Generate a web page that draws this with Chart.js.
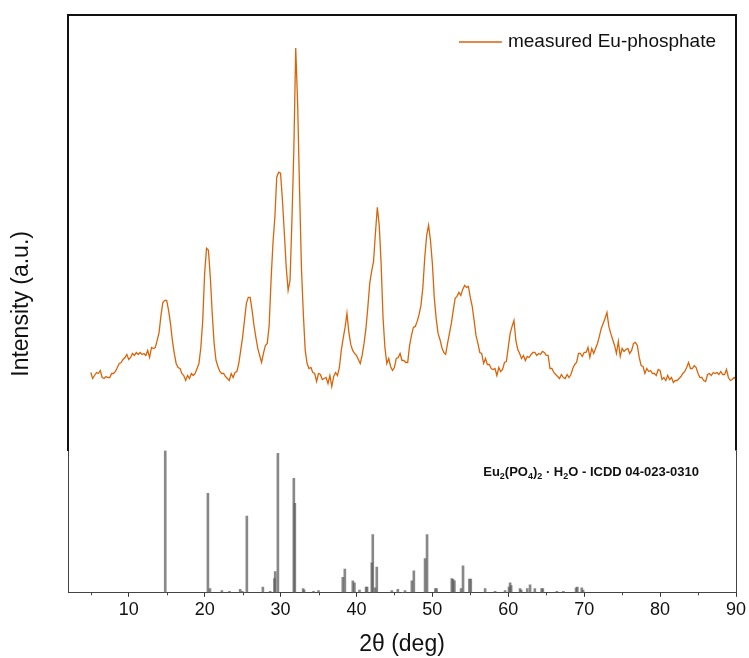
<!DOCTYPE html>
<html><head><meta charset="utf-8">
<script src="https://cdn.jsdelivr.net/npm/chart.js@4.4.1/dist/chart.umd.min.js"></script>
<style>html,body{margin:0;padding:0;background:#fff}canvas{display:block}</style>
</head><body>
<canvas id="c" width="749" height="658"></canvas>
<script>
// 2θ scan grid of the measured pattern (deg)
const thetaStart = 5;
const thetaStep = 0.25;
// measured intensity (a.u.), one value per grid step from 5° to 90°
const measuredIntensity = [
  78,72,75,78,77,80,73,72,74,73,73,77,77,79,83,87,88,91,93,96,
  91,93,97,95,98,96,98,96,97,95,100,93,103,102,103,110,118,135,148,150,
  150,140,127,110,97,87,83,82,77,75,70,75,72,77,75,77,82,87,103,130,
  177,202,200,173,137,107,90,84,79,77,77,74,72,70,77,73,78,79,87,100,
  113,130,147,153,153,140,125,113,102,95,88,97,105,107,125,170,207,233,273,278,
  277,250,217,183,160,170,230,300,402,347,262,183,137,100,87,82,83,78,77,69,
  77,76,71,72,73,67,75,64,74,78,75,83,100,112,123,137,118,106,100,97,
  95,91,87,95,107,122,143,167,179,189,217,243,225,187,133,103,87,92,84,80,
  83,92,93,97,90,90,88,88,105,115,123,124,129,136,145,163,193,215,225,210,
  187,153,132,117,111,103,98,96,107,117,127,140,152,154,158,155,161,165,163,164,
  153,144,130,115,107,98,97,87,92,86,86,82,81,82,75,83,79,81,88,89,
  103,117,124,130,110,101,97,92,95,90,94,93,96,98,98,95,97,96,99,98,
  95,95,82,82,78,76,74,72,76,73,72,76,73,76,82,86,88,97,97,94,
  98,98,103,93,102,97,102,107,114,122,127,132,138,124,117,111,105,97,109,94,
  102,99,101,102,97,100,107,108,105,93,85,84,77,82,79,80,77,77,75,81,
  80,71,73,70,75,71,73,68,70,70,72,74,77,79,83,88,82,82,85,83,
  77,73,73,70,69,76,77,75,78,77,78,76,79,76,76,81,73,70,71,73,
  71
];
// reference stick pattern (ICDD 04-023-0310): 2θ positions and relative intensities (%)
const refPositions = [14.81,20.43,20.7,22.27,23.27,24.68,24.95,25.56,27.67,28.63,29.2,29.3,29.65,31.75,31.88,32.98,33.1,34.34,35.0,38.2,38.47,39.52,39.73,40.4,41.27,41.4,42.02,42.15,42.46,42.68,44.66,45.45,46.4,47.3,47.56,49.04,49.3,50.4,50.55,52.56,52.72,52.9,53.78,54.04,54.88,55.06,56.95,58.26,59.58,60.1,60.24,60.38,61.55,61.7,62.5,62.87,63.5,64.4,64.55,66.4,67.26,68.93,69.1,69.68,69.85];
const refIntensities = [100,70,3,1.5,1,2.5,1,54,4,1,10,15,98,80.5,63,3,2,1,1.5,10.8,16.7,8.5,7,2,4,4,21,41,3.5,18,1.5,2.5,1.5,8.5,15.5,24,41,3,3,10,9.5,8.5,3,19,9.6,9.6,3,1,1.5,4,7,5,3,2,3,5.6,3,3,3,1,1,3.5,4,3.5,2];
const minorTicks = [5,15,25,35,45,55,65,75,85];

const measuredLabel = 'measured Eu-phosphate';
const refLabelParts = [['Eu',0],['2',1],['(PO',0],['4',1],[')',0],['2',1],[' · H',0],['2',1],['O - ICDD 04-023-0310',0]];
const xTitle = '2θ (deg)';
const yTitle = 'Intensity (a.u.)';

const FONT = "'Liberation Sans', Arial, Helvetica, sans-serif";
const ORANGE = '#d9650b';

const measured = measuredIntensity.map((v, i) => ({x: thetaStart + i * thetaStep, y: v}));
const sticks = refPositions.map((p, i) => ({x: p, y: refIntensities[i]}));

const decor = {
  id: 'decor',
  afterDraw(chart) {
    const {ctx, chartArea: ca, scales} = chart;
    const yM = scales.yMeas, yR = scales.yRef, x = scales.x;
    ctx.save();
    // frame of measured panel
    ctx.strokeStyle = '#111'; ctx.lineWidth = 2;
    ctx.beginPath();
    ctx.moveTo(ca.left - 1, yM.top); ctx.lineTo(ca.right + 1, yM.top);
    ctx.moveTo(ca.right, yM.top); ctx.lineTo(ca.right, yM.bottom);
    ctx.stroke();
    ctx.strokeStyle = '#444'; ctx.lineWidth = 1;
    ctx.beginPath();
    ctx.moveTo(Math.round(ca.right) + 0.5, yR.top); ctx.lineTo(Math.round(ca.right) + 0.5, yR.bottom);
    ctx.stroke();
    // minor ticks
    ctx.beginPath();
    for (const m of minorTicks) {
      const px = Math.round(x.getPixelForValue(m)) + 0.5;
      ctx.moveTo(px, x.top); ctx.lineTo(px, x.top + 2.5);
    }
    ctx.stroke();
    // legend
    ctx.font = '19px ' + FONT;
    ctx.fillStyle = '#111';
    ctx.textBaseline = 'middle';
    const tw = ctx.measureText(measuredLabel).width;
    const tx = ca.right - 20 - tw;
    const ly = yM.top + 27;
    ctx.fillText(measuredLabel, tx, ly);
    ctx.strokeStyle = ORANGE; ctx.lineWidth = 1.3;
    ctx.beginPath(); ctx.moveTo(tx - 49, ly); ctx.lineTo(tx - 6, ly); ctx.stroke();
    // reference label with subscripts
    const big = 'bold 13px ' + FONT, small = 'bold 9px ' + FONT;
    let total = 0;
    for (const [t, s] of refLabelParts) { ctx.font = s ? small : big; total += ctx.measureText(t).width; }
    let cx = ca.right - 37 - total;
    const by = yR.top + 25;
    ctx.textBaseline = 'alphabetic';
    ctx.fillStyle = '#111';
    for (const [t, s] of refLabelParts) {
      ctx.font = s ? small : big;
      ctx.fillText(t, cx, by + (s ? 3 : 0));
      cx += ctx.measureText(t).width;
    }
    // y title centred on full plot height
    ctx.save();
    ctx.translate(22, (ca.top + ca.bottom) / 2);
    ctx.rotate(-Math.PI / 2);
    ctx.font = '23px ' + FONT;
    ctx.textAlign = 'center'; ctx.textBaseline = 'middle';
    ctx.fillStyle = '#111';
    ctx.fillText(yTitle, 0, 0);
    ctx.restore();
    ctx.restore();
  }
};

new Chart(document.getElementById('c'), {
  type: 'line',
  data: {
    datasets: [
      {label: measuredLabel, data: measured, yAxisID: 'yMeas', borderColor: ORANGE, borderWidth: 1.3,
       pointRadius: 0, tension: 0, fill: false},
      {type: 'bar', label: 'ICDD 04-023-0310', data: sticks, yAxisID: 'yRef',
       backgroundColor: 'rgba(90,90,90,0.72)', borderWidth: 0, barThickness: 2}
    ]
  },
  options: {
    responsive: false, animation: false, events: [],
    layout: {padding: {left: 60, right: 13, top: 15, bottom: 0}},
    plugins: {legend: {display: false}, tooltip: {enabled: false}},
    scales: {
      x: {type: 'linear', min: 2, max: 90, offset: false,
          ticks: {stepSize: 10, includeBounds: false, maxRotation: 0, color: '#111', padding: 2,
                  font: {family: FONT, size: 18}},
          grid: {display: true, offset: false, drawOnChartArea: false, drawTicks: true, tickLength: 4, tickColor: '#333'},
          border: {color: '#444', width: 1},
          title: {display: true, text: xTitle, color: '#111', font: {family: FONT, size: 23}, padding: {top: 8, bottom: 0}}},
      yRef: {type: 'linear', position: 'left', stack: 'panels', stackWeight: 142, min: 0, max: 100,
             ticks: {display: false}, grid: {display: false}, border: {color: '#444', width: 1}},
      yMeas: {type: 'linear', position: 'left', stack: 'panels', stackWeight: 435, min: 0, max: 435,
              ticks: {display: false}, grid: {display: false}, border: {color: '#111', width: 2}}
    }
  },
  plugins: [decor]
});
</script>
</body></html>
